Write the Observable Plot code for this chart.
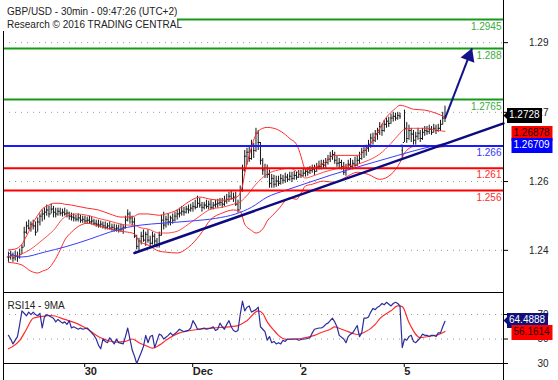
<!DOCTYPE html>
<html><head><meta charset="utf-8">
<script src="https://cdn.jsdelivr.net/npm/d3@7"></script>
<script src="https://cdn.jsdelivr.net/npm/@observablehq/plot@0.6"></script>
<style>
body{margin:0;background:#fff;}
#wrap{position:relative;width:558px;height:380px;overflow:hidden;font-family:"Liberation Sans",Arial,Helvetica,sans-serif;background:#fff;}
#wrap svg{display:block;}
#frame{position:absolute;left:3px;top:0;width:499px;height:380px;border-left:1px solid #000;border-right:1px solid #000;pointer-events:none;}
#title{position:absolute;left:0;top:0;width:177px;height:31px;background:#fff;font-size:10px;line-height:12.5px;color:#222;padding:6px 0 0 7px;box-sizing:border-box;white-space:nowrap;}
</style></head>
<body>
<div id="wrap"><div id="price"></div><div id="rsi"></div><div id="frame"></div><div id="title">GBP/USD - 30min - 09:47:26 (UTC+2)<br>Research © 2016 TRADING CENTRAL</div></div>
<script>
// ---------- DATA (30-min bars, index 0 = first bar on the chart) ----------
const high = [
1.2421,1.2423,1.2419,1.2423,1.2421,1.2428,1.2437,1.2477,1.2489,1.2493,
1.2489,1.2493,1.2489,1.2498,1.2507,1.2516,1.2520,1.2527,1.2524,1.2529,
1.2524,1.2520,1.2520,1.2520,1.2518,1.2520,1.2516,1.2511,1.2509,1.2507,
1.2504,1.2507,1.2504,1.2502,1.2502,1.2500,1.2502,1.2500,1.2495,1.2493,
1.2493,1.2491,1.2489,1.2489,1.2486,1.2489,1.2484,1.2484,1.2482,1.2482,
1.2484,1.2482,1.2502,1.2516,1.2511,1.2502,1.2498,1.2459,1.2452,1.2466,
1.2471,1.2466,1.2471,1.2457,1.2466,1.2462,1.2452,1.2466,1.2504,1.2511,
1.2502,1.2507,1.2502,1.2507,1.2511,1.2516,1.2520,1.2524,1.2522,1.2524,
1.2527,1.2529,1.2533,1.2538,1.2547,1.2542,1.2533,1.2533,1.2538,1.2536,
1.2538,1.2533,1.2538,1.2540,1.2542,1.2542,1.2547,1.2551,1.2556,1.2560,
1.2554,1.2556,1.2538,1.2570,1.2617,1.2650,1.2655,1.2660,1.2673,1.2666,
1.2700,1.2695,1.2668,1.2632,1.2619,1.2617,1.2606,1.2596,1.2594,1.2592,
1.2592,1.2596,1.2594,1.2599,1.2596,1.2601,1.2601,1.2603,1.2601,1.2605,
1.2605,1.2610,1.2608,1.2612,1.2614,1.2617,1.2617,1.2621,1.2626,1.2628,
1.2628,1.2632,1.2639,1.2646,1.2650,1.2646,1.2637,1.2632,1.2628,1.2623,
1.2619,1.2628,1.2632,1.2628,1.2635,1.2637,1.2646,1.2655,1.2660,1.2662,
1.2673,1.2687,1.2689,1.2695,1.2700,1.2713,1.2709,1.2718,1.2723,1.2725,
1.2732,1.2736,1.2734,1.2736,1.2734,1.2662,1.2741,1.2713,1.2707,1.2700,
1.2695,1.2691,1.2700,1.2695,1.2700,1.2704,1.2704,1.2707,1.2704,1.2709,
1.2707,1.2709,1.2718,1.2736,1.2750];
const low = [
1.2398,1.2403,1.2398,1.2401,1.2398,1.2405,1.2416,1.2432,1.2461,1.2471,
1.2466,1.2471,1.2457,1.2466,1.2480,1.2489,1.2493,1.2502,1.2498,1.2507,
1.2498,1.2498,1.2502,1.2502,1.2500,1.2502,1.2498,1.2493,1.2491,1.2489,
1.2489,1.2489,1.2486,1.2486,1.2484,1.2484,1.2484,1.2482,1.2480,1.2477,
1.2475,1.2475,1.2473,1.2471,1.2471,1.2471,1.2468,1.2466,1.2466,1.2464,
1.2466,1.2461,1.2473,1.2489,1.2484,1.2480,1.2452,1.2426,1.2421,1.2437,
1.2443,1.2434,1.2441,1.2432,1.2437,1.2434,1.2430,1.2430,1.2457,1.2471,
1.2475,1.2480,1.2480,1.2484,1.2489,1.2493,1.2498,1.2502,1.2502,1.2507,
1.2507,1.2511,1.2511,1.2516,1.2520,1.2520,1.2511,1.2516,1.2518,1.2516,
1.2516,1.2516,1.2520,1.2520,1.2524,1.2520,1.2524,1.2529,1.2533,1.2538,
1.2533,1.2524,1.2509,1.2516,1.2556,1.2601,1.2617,1.2623,1.2628,1.2632,
1.2646,1.2650,1.2617,1.2594,1.2587,1.2587,1.2565,1.2565,1.2565,1.2567,
1.2569,1.2572,1.2574,1.2576,1.2578,1.2581,1.2578,1.2583,1.2583,1.2587,
1.2587,1.2590,1.2590,1.2592,1.2596,1.2599,1.2594,1.2601,1.2606,1.2606,
1.2608,1.2610,1.2617,1.2623,1.2628,1.2619,1.2612,1.2610,1.2606,1.2594,
1.2592,1.2606,1.2610,1.2606,1.2612,1.2614,1.2619,1.2628,1.2632,1.2637,
1.2646,1.2655,1.2662,1.2668,1.2673,1.2684,1.2682,1.2691,1.2700,1.2702,
1.2709,1.2714,1.2716,1.2718,1.2720,1.2632,1.2668,1.2666,1.2673,1.2668,
1.2662,1.2662,1.2673,1.2668,1.2673,1.2682,1.2684,1.2686,1.2684,1.2689,
1.2686,1.2691,1.2693,1.2707,1.2713];
const close = [
1.2410,1.2414,1.2408,1.2412,1.2410,1.2416,1.2432,1.2466,1.2480,1.2475,
1.2484,1.2480,1.2466,1.2489,1.2502,1.2507,1.2511,1.2516,1.2507,1.2518,
1.2511,1.2507,1.2513,1.2509,1.2511,1.2507,1.2509,1.2502,1.2500,1.2498,
1.2495,1.2498,1.2493,1.2495,1.2491,1.2493,1.2489,1.2491,1.2486,1.2484,
1.2482,1.2484,1.2480,1.2477,1.2480,1.2475,1.2477,1.2473,1.2475,1.2471,
1.2473,1.2477,1.2493,1.2507,1.2498,1.2489,1.2457,1.2434,1.2446,1.2457,
1.2448,1.2461,1.2448,1.2441,1.2457,1.2446,1.2437,1.2459,1.2493,1.2482,
1.2495,1.2489,1.2498,1.2493,1.2502,1.2507,1.2509,1.2513,1.2511,1.2518,
1.2516,1.2520,1.2524,1.2522,1.2531,1.2527,1.2522,1.2527,1.2524,1.2529,
1.2522,1.2527,1.2529,1.2531,1.2533,1.2529,1.2536,1.2540,1.2547,1.2542,
1.2545,1.2529,1.2516,1.2560,1.2606,1.2637,1.2646,1.2632,1.2662,1.2650,
1.2689,1.2668,1.2628,1.2606,1.2610,1.2596,1.2576,1.2587,1.2574,1.2581,
1.2576,1.2587,1.2583,1.2590,1.2585,1.2592,1.2587,1.2594,1.2590,1.2596,
1.2594,1.2599,1.2603,1.2601,1.2605,1.2608,1.2603,1.2612,1.2614,1.2619,
1.2617,1.2623,1.2630,1.2637,1.2641,1.2628,1.2621,1.2623,1.2614,1.2601,
1.2610,1.2619,1.2614,1.2621,1.2617,1.2628,1.2632,1.2646,1.2650,1.2655,
1.2664,1.2678,1.2673,1.2687,1.2691,1.2704,1.2695,1.2709,1.2716,1.2711,
1.2723,1.2727,1.2723,1.2729,1.2727,1.2650,1.2700,1.2677,1.2695,1.2687,
1.2673,1.2682,1.2689,1.2677,1.2691,1.2695,1.2693,1.2698,1.2691,1.2700,
1.2695,1.2700,1.2709,1.2723,1.2728];

// Bollinger bands (20,2) and moving average, read as [bar index, price]
const upperBand = [[0,1.2426],[3,1.2428],[6,1.2439],[8,1.2457],[10,1.2477],[13,1.2504],[15,1.2518],[18,1.2527],[20,1.2531],[23,1.2531],[25,1.2529],[28,1.2527],[30,1.2525],[35,1.2520],[40,1.2516],[45,1.2507],[50,1.2500],[53,1.2500],[56,1.2502],[58,1.2507],[62,1.2507],[67,1.2504],[70,1.2507],[75,1.2516],[80,1.2534],[85,1.2545],[90,1.2540],[95,1.2538],[100,1.2542],[102,1.2547],[103,1.2554],[104,1.2570],[105,1.2599],[107,1.2639],[110,1.2686],[113,1.2700],[115,1.2702],[118,1.2700],[120,1.2696],[123,1.2686],[125,1.2677],[128,1.2664],[130,1.2637],[131,1.2619],[132,1.2606],[135,1.2610],[140,1.2621],[145,1.2639],[150,1.2639],[155,1.2639],[158,1.2648],[160,1.2659],[163,1.2682],[165,1.2700],[168,1.2725],[170,1.2736],[172,1.2745],[174,1.2752],[176,1.2750],[180,1.2743],[185,1.2741],[190,1.2734],[194,1.2725]];
const middleBand = [[0,1.2412],[3,1.2412],[6,1.2417],[10,1.2428],[15,1.2448],[20,1.2470],[25,1.2500],[30,1.2507],[35,1.2504],[40,1.2497],[45,1.2491],[50,1.2484],[53,1.2482],[56,1.2482],[58,1.2477],[62,1.2473],[67,1.2464],[70,1.2464],[75,1.2468],[80,1.2484],[85,1.2502],[90,1.2518],[95,1.2522],[100,1.2529],[103,1.2534],[105,1.2543],[110,1.2574],[115,1.2597],[120,1.2606],[125,1.2610],[128,1.2603],[130,1.2594],[132,1.2588],[135,1.2592],[140,1.2601],[145,1.2608],[150,1.2615],[155,1.2619],[160,1.2628],[165,1.2642],[170,1.2666],[174,1.2689],[176,1.2698],[180,1.2700],[185,1.2700],[190,1.2696],[194,1.2693]];
const lowerBand = [[0,1.2398],[3,1.2396],[6,1.2392],[10,1.2378],[13,1.2374],[15,1.2378],[18,1.2385],[20,1.2398],[23,1.2426],[25,1.2448],[28,1.2466],[30,1.2475],[35,1.2486],[40,1.2480],[45,1.2473],[50,1.2468],[53,1.2466],[56,1.2462],[58,1.2446],[62,1.2437],[67,1.2423],[70,1.2421],[75,1.2419],[80,1.2432],[85,1.2459],[90,1.2495],[95,1.2509],[100,1.2516],[103,1.2513],[105,1.2484],[108,1.2470],[110,1.2464],[113,1.2473],[115,1.2491],[118,1.2507],[120,1.2518],[125,1.2543],[128,1.2540],[130,1.2554],[132,1.2570],[135,1.2574],[140,1.2581],[145,1.2578],[150,1.2590],[155,1.2601],[160,1.2596],[165,1.2585],[170,1.2596],[174,1.2623],[176,1.2644],[180,1.2659],[185,1.2662],[190,1.2657],[194,1.2659]];
const movingAvg = [[0,1.2419],[6,1.2410],[16,1.2421],[26,1.2434],[36,1.2450],[45,1.2466],[53,1.2477],[59,1.2482],[68,1.2486],[81,1.2491],[92,1.2497],[101,1.2507],[108,1.2522],[115,1.2545],[123,1.2560],[130,1.2572],[143,1.2594],[158,1.2617],[173,1.2639],[183,1.2653],[194,1.2666]];

// Trading Central levels
const levelValues = [1.2945, 1.288, 1.2765, 1.266, 1.261, 1.256];
const levelLabels = ["1.2945", "1.288", "1.2765", "1.266", "1.261", "1.256"];
const levelRoles = ["resistance", "resistance", "resistance", "pivot", "support", "support"];

// Trend line and projection arrow: [bar index, price]
const trendLine = [[56, 1.2419], [220, 1.2711]];
const projection = [[194, 1.2722], [206, 1.2880]];

// Right-hand value tags
const priceTags = [1.2728, 1.26878, 1.26709];
const priceTagLabels = ["1.2728", "1.26878", "1.26709"];
const rsiTags = [64.4888, 56.1614];
const rsiTagLabels = ["64.4888", "56.1614"];

// Axes
const priceGrid = [1.2425, 1.2580, 1.2736, 1.2893];
const dayTicks = [33, 81, 129, 175];
const dayLabels = ["30", "Dec", "2", "5"];
const rsiTicks = [30, 50, 70];

// RSI(14) and its 9-period MA: [bar index, value]
const rsi14 = [[0,53],[1,50],[2,46],[4,52],[5,62],[6,73],[8,69],[9,72],[10,70],[11,72],[12,70],[13,69],[14,71],[15,59],[16,68],[17,70],[18,69],[19,68],[20,67],[21,64],[22,66],[24,63],[25,64],[26,62],[27,65],[28,59],[29,60],[31,58],[32,59],[33,58],[35,59],[36,57],[38,53],[39,50],[40,45],[41,42],[42,50],[43,48],[44,47],[45,51],[47,46],[48,50],[49,47],[51,46],[52,52],[53,59],[54,50],[55,41],[56,36],[57,30],[59,39],[60,44],[61,53],[62,47],[63,52],[64,53],[65,43],[67,54],[68,53],[69,50],[71,53],[72,55],[73,53],[75,56],[76,58],[78,56],[80,57],[81,59],[82,65],[83,62],[84,58],[85,58],[87,59],[88,58],[90,59],[91,60],[92,57],[93,58],[94,63],[95,60],[96,58],[97,62],[98,65],[99,60],[100,57],[101,56],[102,57],[103,70],[104,81],[105,73],[106,76],[107,77],[108,72],[109,73],[110,74],[111,76],[112,60],[113,58],[114,56],[115,49],[116,52],[117,47],[118,48],[119,46],[120,47],[121,46],[122,49],[123,48],[124,50],[125,50],[126,50],[128,50],[129,49],[131,50],[132,50],[134,51],[135,55],[136,58],[138,59],[139,59],[140,60],[141,62],[142,63],[143,65],[144,67],[145,64],[146,60],[147,53],[149,50],[150,47],[151,52],[152,54],[153,55],[154,58],[155,61],[156,52],[157,55],[158,67],[159,67],[160,68],[161,72],[162,75],[163,74],[164,76],[165,77],[166,79],[167,78],[168,80],[170,77],[171,79],[172,80],[173,79],[174,77],[175,43],[176,50],[177,49],[178,52],[179,53],[180,48],[181,47],[182,49],[183,51],[184,54],[185,53],[186,53],[187,52],[188,53],[189,53],[190,52],[191,55],[192,55],[193,60],[194,64.49]];
const rsiMa9 = [[0,42],[5,48.8],[8,58],[11,67],[15,68.5],[19,69.2],[25,66],[30,63],[34,59.4],[41,51],[48,47.5],[52,48],[55,50],[58,47],[61,44.7],[64,42.5],[67,45],[70,49],[76,55],[85,58],[94,59.4],[102,61],[106,65],[111,73],[113,71],[115,64],[118,57],[120,53],[124,49.6],[130,50.4],[136,53],[139,55.3],[143,58],[145,60],[148,58],[151,56],[155,53.7],[158,55.3],[163,62],[165,66.7],[170,73],[173,77],[175,76.5],[178,63.5],[183,51.2],[188,52.5],[191,53.5],[194,56.16]];

// ---------- CHART ----------
const FONT = '"Liberation Sans", Arial, Helvetica, sans-serif';
const xDomain = [-2.2, 220];
const bars = close.map((c, i) => {
  const prev = i > 0 ? close[i - 1] : c;
  return {i, h: high[i], l: low[i], c, o: Math.max(low[i], Math.min(high[i], prev))};
});
const pts = (arr) => arr.map(([i, v]) => ({i, v}));
const levels = levelValues.map((v, k) => ({v, label: levelLabels[k], role: levelRoles[k]}));
const roleLine = {resistance: "#169a16", pivot: "#1a1aff", support: "#ff0000"};
const roleText = {resistance: "#3cab3c", pivot: "#3535ff", support: "#ff2a2a"};
const tag = (vals, labels, k) => [{v: vals[k], t: labels[k]}];
const bandStyle = {x: "i", y: "v", stroke: "#ff2b2b", strokeWidth: 1, curve: "monotone-x"};
const tipBase = {y: "v", title: "t", frameAnchor: "right", anchor: "left", stroke: "none",
  textPadding: 2, fontSize: 10, lineHeight: 1, pathFilter: "none", fontFamily: FONT};

const priceMarks = [
  Plot.ruleY(priceGrid, {stroke: "#9a9a9a", strokeDasharray: "1,5"}),
  Plot.ruleX(bars, {x: "i", y1: "l", y2: "h", stroke: "#151515", strokeWidth: 1}),
  Plot.ruleY(bars, {y: "o", x1: (d) => d.i - 0.5, x2: "i", stroke: "#151515", strokeWidth: 1}),
  Plot.ruleY(bars, {y: "c", x1: "i", x2: (d) => d.i + 0.5, stroke: "#151515", strokeWidth: 1}),
  Plot.line(pts(upperBand), bandStyle),
  Plot.line(pts(middleBand), {...bandStyle, strokeOpacity: 0.85}),
  Plot.line(pts(lowerBand), bandStyle),
  Plot.line(pts(movingAvg), {x: "i", y: "v", stroke: "#3a3aff", strokeWidth: 1, curve: "monotone-x"})
];
for (const r of ["resistance", "pivot", "support"]) {
  const lv = levels.filter((d) => d.role === r);
  priceMarks.push(Plot.ruleY(lv, {y: "v", stroke: roleLine[r], strokeWidth: 2}));
  priceMarks.push(Plot.text(lv, {y: "v", text: "label", frameAnchor: "right", textAnchor: "end", dx: -2, dy: 7, fill: roleText[r], fontSize: 10}));
}
priceMarks.push(
  Plot.line(pts(trendLine), {x: "i", y: "v", stroke: "#0b0b7e", strokeWidth: 2.5}),
  Plot.link([projection], {x1: (d) => d[0][0], y1: (d) => d[0][1], x2: (d) => d[1][0], y2: (d) => d[1][1], stroke: "#12128a", strokeWidth: 2}),
  Plot.dot([projection[1]], {x: (d) => d[0], y: (d) => d[1], symbol: "triangle", r: 5.5, fill: "#12128a", stroke: "none", rotate: 21, dx: -3, dy: 7.8}),
  Plot.axisY(priceGrid, {anchor: "right", label: null, tickSize: 4, tickPadding: 41, textAnchor: "end", tickFormat: d3.format(".2f"), fontSize: 10, fill: "#222", stroke: "#000"}),
  Plot.tip(tag(priceTags, priceTagLabels, 0), {...tipBase, fill: "#000", pointerSize: 7}),
  Plot.tip(tag(priceTags, priceTagLabels, 1), {...tipBase, fill: "#ff0000", pointerSize: 0, dx: 8}),
  Plot.tip(tag(priceTags, priceTagLabels, 2), {...tipBase, fill: "#0000ff", pointerSize: 0, dx: 8, dy: 4})
);

const price = Plot.plot({
  width: 558, height: 292, marginTop: 0, marginBottom: 0, marginLeft: 3, marginRight: 55,
  x: {domain: xDomain, axis: null, label: null},
  y: {domain: [1.2330, 1.2988], label: null},
  style: {fontFamily: FONT, fontSize: "10px", background: "transparent", color: "#000", overflow: "visible"},
  marks: priceMarks
});
const priceTipText = ["#ffffff", "#1a0000", "#ffffff"];
price.querySelectorAll('g[aria-label="tip"]').forEach((g, k) => { g.style.color = priceTipText[k]; });
document.getElementById("price").appendChild(price);

const rsi = Plot.plot({
  width: 558, height: 88, marginTop: 0, marginBottom: 17, marginLeft: 3, marginRight: 55,
  x: {domain: xDomain, label: null},
  y: {domain: [30, 88], label: null},
  style: {fontFamily: FONT, fontSize: "10px", background: "transparent", color: "#000", overflow: "visible"},
  marks: [
    Plot.ruleY(rsiTicks.filter((d) => d > 30), {stroke: "#9a9a9a", strokeDasharray: "1,5"}),
    Plot.frame({stroke: "#000"}),
    Plot.axisY(rsiTicks, {anchor: "right", label: null, tickSize: 4, tickPadding: 41, textAnchor: "end", fontSize: 10, fill: "#222", stroke: "#000"}),
    Plot.axisX(dayTicks, {anchor: "bottom", label: null, tickSize: 4, tickPadding: 0, textAnchor: "start", dx: 2,
      tickFormat: (d) => dayLabels[dayTicks.indexOf(d)], fontSize: 11, fontWeight: "bold", fill: "#222", stroke: "#000"}),
    Plot.line(pts(rsiMa9), {x: "i", y: "v", stroke: "#ff2b2b", strokeWidth: 1.2, curve: "monotone-x"}),
    Plot.line(pts(rsi14), {x: "i", y: "v", stroke: "#2c2c9c", strokeWidth: 1.2}),
    Plot.text(["RSI14 - 9MA"], {frameAnchor: "top-left", textAnchor: "start", dx: 4, dy: 9, fontSize: 10, fill: "#222"}),
    Plot.tip(tag(rsiTags, rsiTagLabels, 0), {...tipBase, fill: "#10107c", pointerSize: 7, dy: -1}),
    Plot.tip(tag(rsiTags, rsiTagLabels, 1), {...tipBase, fill: "#ff0000", pointerSize: 0, dx: 8, dy: 1})
  ]
});
const rsiTipText = ["#ffffff", "#1a0000"];
rsi.querySelectorAll('g[aria-label="tip"]').forEach((g, k) => { g.style.color = rsiTipText[k]; });
document.getElementById("rsi").appendChild(rsi);
</script>
</body></html>
